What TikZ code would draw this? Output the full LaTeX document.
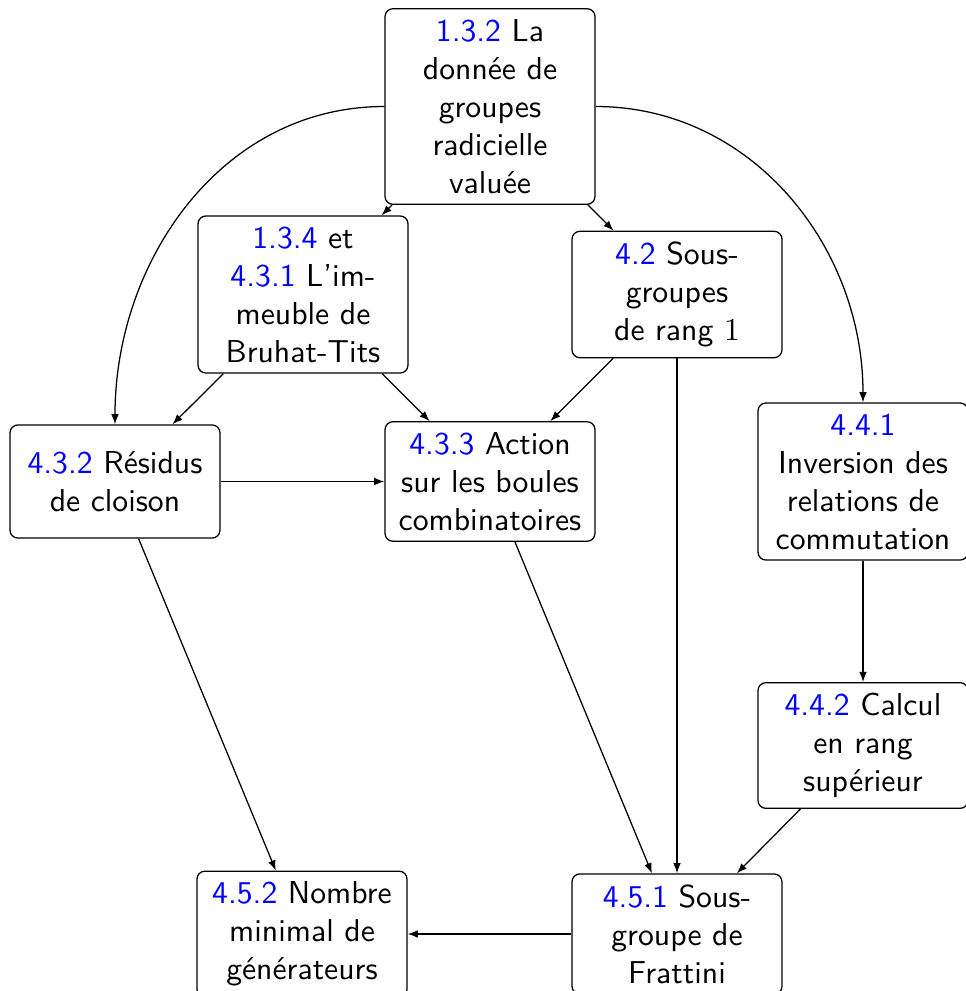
\documentclass[tikz,border=0pt]{standalone}
\usetikzlibrary{arrows.meta}
\begin{document}
\begin{tikzpicture}[x=0.3155pt,y=-0.3155pt,
  box/.style={draw, rounded corners=2.5pt, text width=59.6pt, align=center, font=\sffamily, inner sep=3.33pt},
  arr/.style={-{Latex[length=3.2pt,width=2.4pt]}}]
\useasboundingbox (0,0) rectangle (965,991);
\newcommand\refnum[1]{\textcolor{blue}{#1}}
\node[box] (A) at (490,106.5) {\refnum{1.3.2} La\\donnée de\\groupes\\radicielle\\valuée};
\node[box] (B) at (303,294.5) {\refnum{1.3.4} et\\\refnum{4.3.1} L'im-\\meuble de\\Bruhat-Tits};
\node[box] (C) at (677,294.5) {\refnum{4.2} Sous-\\groupes\\de rang $1$};
\node[box, minimum height=35.7pt] (D) at (115,481.5) {\refnum{4.3.2} Résidus\\de cloison};
\node[box] (E) at (490,481.5) {\refnum{4.3.3} Action\\sur les boules\\combinatoires};
\node[box] (F) at (863,481.5) {\refnum{4.4.1}\\Inversion des\\relations de\\commutation};
\node[box] (G) at (863,745.5) {\refnum{4.4.2} Calcul\\en rang\\supérieur};
\node[box] (H) at (302,934) {\refnum{4.5.2} Nombre\\minimal de\\générateurs};
\node[box] (I) at (677,934) {\refnum{4.5.1} Sous-\\groupe de\\Frattini};
\draw[arr] (A) -- (B);
\draw[arr] (A) -- (C);
\draw[arr] (A.west) .. controls +(-163,0) and +(0,-163) .. (D.north);
\draw[arr] (A.east) .. controls +(156,0) and +(0,-156) .. (F.north);
\draw[arr] (B) -- (D);
\draw[arr] (B) -- (E);
\draw[arr] (C) -- (E);
\draw[arr] (C) -- (I);
\draw[arr] (D) -- (E);
\draw[arr] (D) -- (H);
\draw[arr] (E) -- (I);
\draw[arr] (F) -- (G);
\draw[arr] (G) -- (I);
\draw[arr] (I) -- (H);
\end{tikzpicture}
\end{document}
